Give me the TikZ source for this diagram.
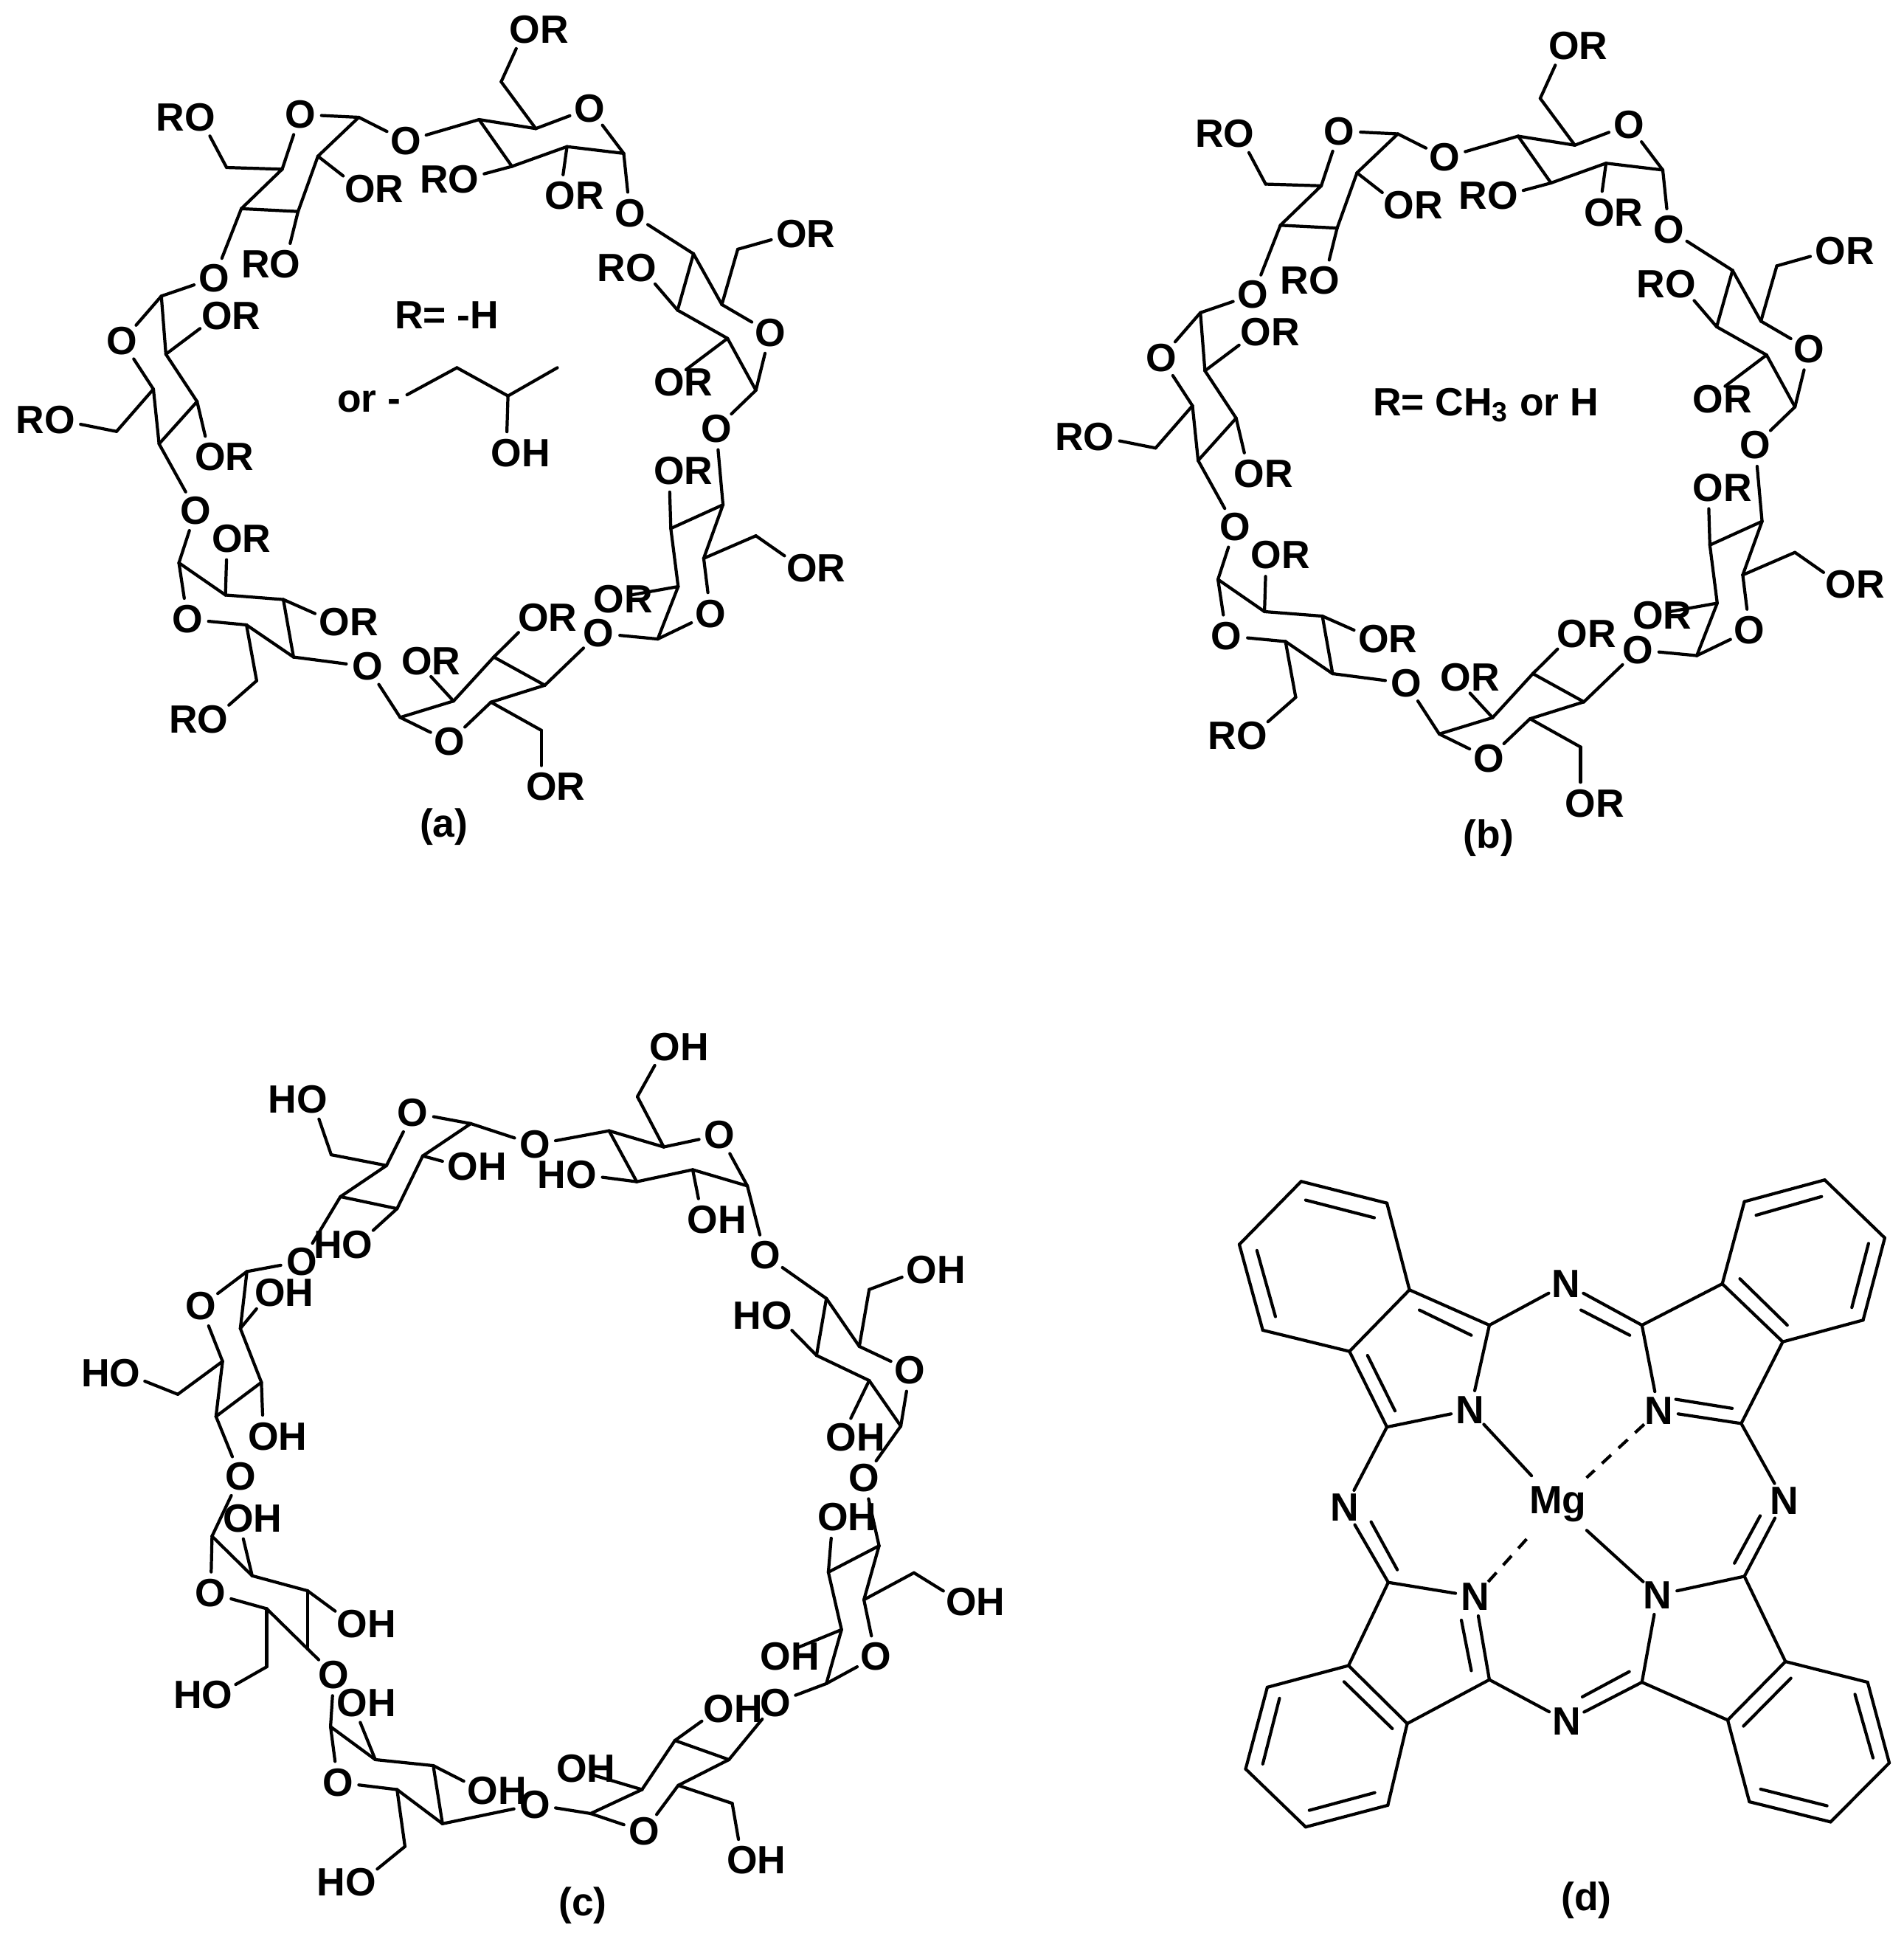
\documentclass[tikz,border=0pt]{standalone}
\usepackage{fontspec}
\setmainfont{Liberation Sans}
\newcommand{\tOR}{O\rlap{R}}
\newcommand{\tRO}{\llap{R}O}
\newcommand{\tOH}{O\rlap{H}}
\newcommand{\tHO}{\llap{H}O}
\tikzset{
  bond/.style={line width=1.2pt,line cap=round,black},
  atom/.style={circle,inner sep=-1pt,minimum size=.56cm,font=\fontsize{15.2pt}{17pt}\selectfont\bfseries,text=black},
  txt/.style={inner sep=0pt,font=\fontsize{15.2pt}{17pt}\selectfont\bfseries,text=black},
  dashbond/.style={bond,line cap=butt,dash pattern=on 4.8pt off 3.9pt},
}
% carbons: ring/c1x/c1y/.../c6x/c6y
\newcommand{\carbons}[1]{\foreach \r/\ax/\ay/\bx/\by/\cx/\cy/\dx/\dy/\ex/\ey/\fx/\fy in {#1}{
  \coordinate (\r1) at (\ax,\ay); \coordinate (\r2) at (\bx,\by); \coordinate (\r3) at (\cx,\cy);
  \coordinate (\r4) at (\dx,\dy); \coordinate (\r5) at (\ex,\ey); \coordinate (\r6) at (\fx,\fy);}}
\newcommand{\atoms}[1]{\foreach \n/\x/\y/\tx in {#1}{\node[atom] (\n) at (\x,\y) {\tx};}}
\newcommand{\rings}[1]{\foreach \r/\nx in {#1}{
  \draw[bond] (\r1)--(\r2); \draw[bond] (\r2)--(\r3); \draw[bond] (\r3)--(\r4);
  \draw[bond] (\r4)--(\r5); \draw[bond] (\r5)--(\r O); \draw[bond] (\r O)--(\r1);
  \draw[bond] (\r5)--(\r6); \draw[bond] (\r6)--(\r6s); \draw[bond] (\r2)--(\r2s);
  \draw[bond] (\r3)--(\r3s); \draw[bond] (\r1)--(l\r); \draw[bond] (l\r)--(\nx4);}}
\newcommand{\cyclo}{%
  \carbons{a/1102/272/1002/260/905/295/847/212/947/228/886/145,
           b/1335/692/1285/600/1197/550/1225/450/1275/540/1303/442,
           c/1162/1133/1198/1040/1185/937/1277/895/1243/990/1335/950,
           d/708/1272/802/1243/873/1165/963/1215/868/1245/957/1295,
           e/318/998/400/1055/502/1063/520/1165/437/1108/455/1207,
           f/287/525/295/628/350/712/283/787/273/690/208/765,
           g/635/208/563/277/528/375/428/370/500/300/402/297}
  \atoms{aO/1042/192/O,la/1113/378/O,a2s/990/347/\tOR,a3s/820/318/\tRO,a6s/928/52/\tOR,
         bO/1360/590/O,lb/1265/760/O,b2s/1182/678/\tOR,b3s/1133/475/\tRO,b6s/1398/415/\tOR,
         cO/1255/1088/O,lc/1058/1123/O,c2s/1076/1062/\tOR,c3s/1182/835/\tOR,c6s/1416/1007/\tOR,
         dO/795/1315/O,ld/650/1182/O,d2s/737/1172/\tOR,d3s/943/1095/\tOR,d6s/957/1395/\tOR,
         eO/333/1098/O,le/348/905/O,e2s/403/955/\tOR,e3s/592/1103/\tOR,e6s/378/1275/\tRO,
         fO/218/605/O,lf/380/493/O,f2s/385/560/\tOR,f3s/373/810/\tOR,f6s/108/745/\tRO,
         gO/532/203/O,lg/718/250/O,g2s/637/335/\tOR,g3s/505/468/\tRO,g6s/355/208/\tRO}
  \rings{a/b,b/c,c/d,d/e,e/f,f/g,g/a}
}
\begin{document}
\begin{tikzpicture}
\useasboundingbox (0,0) rectangle (25.8,-26.24);
% (a)
\begin{scope}[shift={(-.02,0)},x=.00769cm,y=-.007645cm,name prefix=A-]
  \cyclo
  \node[txt] (Ra) at (790,559) {R= -H};
  \node[txt] (ora) at (653,712) {or -};
  \coordinate (s0) at (720,700); \coordinate (s1) at (808,652);
  \coordinate (s2) at (898,702); \coordinate (s3) at (985,652);
  \node[atom] (soh) at (895,803) {\tOH};
  \draw[bond] (s0)--(s1); \draw[bond] (s1)--(s2); \draw[bond] (s2)--(s3); \draw[bond] (s2)--(soh);
  \node[txt] (capa) at (785,1466) {(a)};
\end{scope}
% (b)
\begin{scope}[shift={(14.065,-.225)},x=.00769cm,y=-.007645cm,name prefix=B-]
  \cyclo
\end{scope}
\node[txt] (Rb) at (20.14,-5.49) {R= CH\textsubscript{3} or H};
\node[txt] (capb) at (20.18,-11.36) {(b)};
% (c)
\begin{scope}[shift={(0,-13.5)},x=.00892cm,y=-.00812cm,name prefix=C-]
  \carbons{a/1135/317/1052/290/967/310/925/225/1008/252/968/168,
           b/1368/718/1320/642/1240/600/1255/505/1305/585/1320/490,
           c/1255/1148/1278/1058/1258/962/1335/918/1312/1008/1388/963,
           d/897/1365/975/1325/1025/1243/1107/1275/1030/1318/1112/1348,
           e/502/1220/570/1275/658/1285/672/1382/603/1325/615/1420,
           f/322/902/383/968/467/993/467/1090/405/1023/405/1120,
           g/375/460/365/555/397/645/328/702/338/610/270/665,
           h/715/213/642/267/603/355/517/335/587/283/503/265}
  \atoms{aO/1093/232/O,la/1162/433/O,a2s/1067/373/\tOH,a3s/883/298/\tHO,a6s/1010/85/\tOH,
         bO/1382/625/O,lb/1312/805/O,b2s/1278/737/\tOH,b3s/1180/533/\tHO,b6s/1400/457/\tOH,
         cO/1330/1103/O,lc/1178/1180/O,c2s/1178/1103/\tOH,c3s/1265/870/\tOH,c6s/1460/1012/\tOH,
         dO/978/1395/O,ld/812/1350/O,d2s/868/1290/\tOH,d3s/1092/1190/\tOH,d6s/1127/1443/\tOH,
         eO/513/1313/O,le/507/1133/O,e2s/535/1180/\tOH,e3s/733/1327/\tOH,e6s/548/1480/\tHO,
         fO/320/997/O,lf/365/802/O,f2s/362/872/\tOH,f3s/535/1048/\tOH,f6s/330/1167/\tHO,
         gO/305/518/O,lg/458/443/O,g2s/410/495/\tOH,g3s/400/735/\tOH,g6s/190/630/\tHO,
         hO/627/195/O,lh/812/248/O,h2s/703/285/\tOH,h3s/543/415/\tHO,h6s/474/172/\tHO}
  \rings{a/b,b/c,c/d,d/e,e/f,f/g,g/h,h/a}
  \node[txt] (capc) at (885,1518) {(c)};
\end{scope}
% (d)
\begin{scope}[shift={(16.2,-15.5)},x=.006116cm,y=-.00684cm]
  \foreach \n/\x/\y in {A1/475/290,A2/425/118,A3/235/75,A4/98/200,A5/150/370,A6/342/412,
    B1/1168/278,B2/1217/115,B3/1395/72,B4/1528/187,B5/1480/350,B6/1302/393,
    C1/1308/1027,C2/1180/1143,C3/1228/1305,C4/1408/1345,C5/1538/1228,C6/1490/1068,
    D1/340/1035,D2/470/1150,D3/427/1312,D4/245/1355,D5/112/1240,D6/160/1078,
    P1/652/360,P2/425/562,P3/990/360,P4/1210/555,P5/1217/858,P6/990/1068,P7/652/1063,P8/428/870}
    {\coordinate (\n) at (\x,\y);}
  \foreach \n/\x/\y/\tx in {N1/610/528/N,N2/1027/530/N,N3/1025/895/N,N4/620/898/N,
    Nt/822/278/N,Nr/1305/708/N,Nb/823/1145/N,Nl/332/722/N}
    {\node[atom,minimum size=.52cm] (\n) at (\x,\y) {\tx};}
  \node[atom,minimum size=1.04cm] (Mg) at (804,715) {Mg};
  \foreach \a/\b in {A1/A2,A2/A3,A3/A4,A4/A5,A5/A6,A6/A1,A1/P1,A6/P2,P1/N1,P2/N1,
    B1/B2,B2/B3,B3/B4,B4/B5,B5/B6,B6/B1,B1/P3,B6/P4,P3/N2,P4/N2,
    C1/C2,C2/C3,C3/C4,C4/C5,C5/C6,C6/C1,C1/P5,C2/P6,P5/N3,P6/N3,
    D1/D2,D2/D3,D3/D4,D4/D5,D5/D6,D6/D1,D1/P8,D2/P7,P7/N4,P8/N4,
    P1/Nt,Nt/P3,P4/Nr,Nr/P5,P6/Nb,Nb/P7,P8/Nl,Nl/P2,N1/Mg,N3/Mg}
    {\draw[bond] (\a)--(\b);}
  \draw[dashbond] (N2)--(Mg);
  \draw[dashbond] (N4)--(Mg);
  % inner lines of the double bonds
  \foreach \xa/\ya/\xb/\yb in {245/112/397/147,137/212/178/343,497/330/612/380,382/420/443/530,
    855/330/963/380,1065/507/1190/525,1207/268/1312/360,1243/142/1388/105,1492/198/1455/325,
    1252/738/1195/832,1320/1060/1215/1155,1462/1092/1502/1218,1400/1313/1253/1280,
    962/1047/858/1097,612/1045/590/945,330/1067/437/1160,187/1100/150/1230,253/1322/398/1287,
    448/845/390/750}
    {\draw[bond] (\xa,\ya)--(\xb,\yb);}
  \node[txt] (capd) at (867,1501) {(d)};
\end{scope}
\end{tikzpicture}
\end{document}
